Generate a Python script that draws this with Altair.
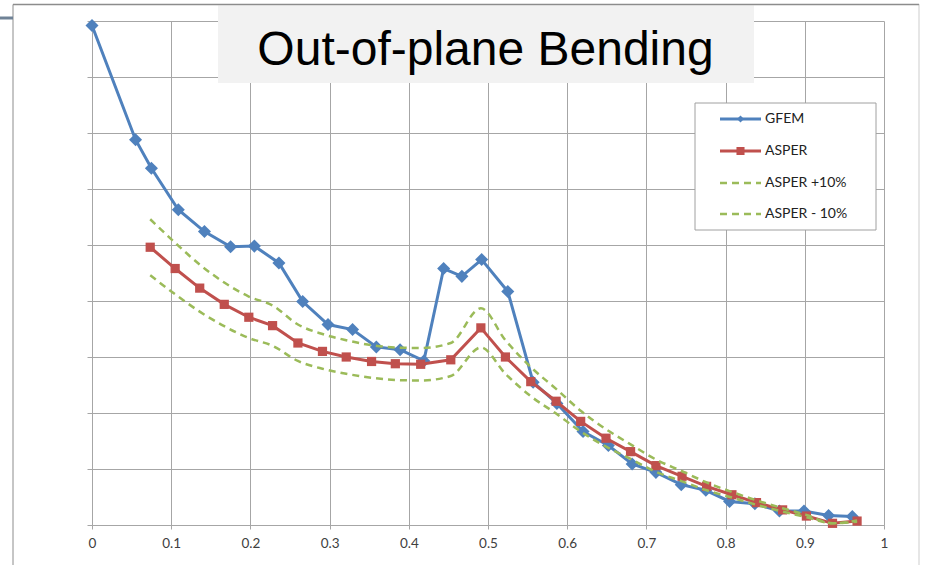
import altair as alt
import pandas as pd

# ---- data ----
gfem_x = [0, 0.055, 0.075, 0.109, 0.142, 0.175, 0.205, 0.236, 0.266, 0.298, 0.329,
          0.359, 0.389, 0.419, 0.444, 0.467, 0.492, 0.525, 0.557, 0.587, 0.620,
          0.652, 0.682, 0.712, 0.744, 0.775, 0.805, 0.837, 0.868, 0.899, 0.930, 0.960]
gfem_y = [8.92, 6.88, 6.37, 5.63, 5.24, 4.97, 4.98, 4.68, 3.99, 3.58, 3.49,
          3.18, 3.13, 2.93, 4.58, 4.44, 4.74, 4.17, 2.55, 2.17, 1.67,
          1.42, 1.09, 0.94, 0.72, 0.62, 0.42, 0.38, 0.25, 0.25, 0.17, 0.15]

asper_x = [0.0735, 0.105, 0.136, 0.167, 0.198, 0.228, 0.260, 0.291, 0.321, 0.353,
           0.383, 0.415, 0.453, 0.491, 0.522, 0.554, 0.586, 0.617, 0.649, 0.680,
           0.712, 0.745, 0.776, 0.808, 0.839, 0.872, 0.902, 0.935, 0.966]
asper_y = [4.96, 4.58, 4.23, 3.94, 3.71, 3.56, 3.25, 3.10, 3.00, 2.92,
           2.88, 2.87, 2.95, 3.52, 3.00, 2.56, 2.21, 1.85, 1.55, 1.31,
           1.06, 0.87, 0.69, 0.54, 0.40, 0.27, 0.16, 0.03, 0.07]
asper_plus_y = [5.46, 5.04, 4.65, 4.33, 4.08, 3.92, 3.58, 3.41, 3.30, 3.21,
                3.17, 3.16, 3.25, 3.87, 3.30, 2.82, 2.43, 2.04, 1.71, 1.44,
                1.17, 0.96, 0.76, 0.59, 0.44, 0.30, 0.18, 0.03, 0.08]
asper_minus_y = [4.46, 4.12, 3.81, 3.55, 3.34, 3.20, 2.93, 2.79, 2.70, 2.63,
                 2.59, 2.58, 2.66, 3.17, 2.70, 2.30, 1.99, 1.67, 1.40, 1.18,
                 0.95, 0.78, 0.62, 0.49, 0.36, 0.24, 0.14, 0.03, 0.06]

x_ticks = [0, 0.1, 0.2, 0.3, 0.4, 0.5, 0.6, 0.7, 0.8, 0.9, 1]
y_ticks = [0, 1, 2, 3, 4, 5, 6, 7, 8, 9]
title_text = "Out-of-plane Bending"
legend_labels = ["GFEM", "ASPER", "ASPER +10%", "ASPER - 10%"]

BLUE = "#4F81BD"
RED = "#C0504D"
GREEN = "#9BBB59"
GRID = "#A6A6A6"

gfem = pd.DataFrame({"x": gfem_x, "y": gfem_y})
asper = pd.DataFrame({"x": asper_x, "y": asper_y})
plus = pd.DataFrame({"x": asper_x, "y": asper_plus_y})
minus = pd.DataFrame({"x": asper_x, "y": asper_minus_y})
one = pd.DataFrame({"k": [0]})

X = alt.X("x:Q", scale=alt.Scale(domain=[0, 1], nice=False, zero=False),
          axis=alt.Axis(values=x_ticks, format="~g", title=None, grid=True,
                        gridColor=GRID, domainColor=GRID, tickColor=GRID,
                        tickSize=4, labelFont="Lato", labelFontSize=13.5,
                        labelColor="#404040", labelPadding=7, labelFlush=False))
Y = alt.Y("y:Q", scale=alt.Scale(domain=[0, 9], nice=False, zero=False),
          axis=alt.Axis(values=y_ticks, labels=False, title=None, grid=True,
                        gridColor=GRID, domainColor=GRID, tickColor=GRID,
                        tickSize=5))

gfem_line = alt.Chart(gfem).mark_line(color=BLUE, strokeWidth=3).encode(x=X, y=Y)
gfem_pts = alt.Chart(gfem).mark_point(shape="diamond", filled=True, opacity=1,
                                      size=170, color=BLUE).encode(x="x:Q", y="y:Q")
asper_line = alt.Chart(asper).mark_line(color=RED, strokeWidth=3).encode(x="x:Q", y="y:Q")
asper_pts = alt.Chart(asper).mark_square(size=85, opacity=1, color=RED).encode(x="x:Q", y="y:Q")
plus_line = alt.Chart(plus).mark_line(color=GREEN, strokeWidth=2.5, strokeDash=[7, 5],
                                      interpolate="monotone").encode(x="x:Q", y="y:Q")
minus_line = alt.Chart(minus).mark_line(color=GREEN, strokeWidth=2.5, strokeDash=[7, 5],
                                        interpolate="monotone").encode(x="x:Q", y="y:Q")

# ---- decorations: title box, frame, legend ----
title_box = alt.Chart(one).mark_rect(color="#F2F2F2").encode(
    x=alt.value(126), x2=alt.value(662), y=alt.value(-15.5), y2=alt.value(62))
title = alt.Chart(one).mark_text(text=title_text, font="Liberation Sans", fontSize=48,
                                 align="center", baseline="alphabetic", color="#000000").encode(
    x=alt.value(393.5), y=alt.value(44))

frame_left = alt.Chart(one).mark_rule(color="#8C8C8C", strokeWidth=1).encode(
    x=alt.value(-79), y=alt.value(-16.5), y2=alt.value(544))
frame_top = alt.Chart(one).mark_rule(color="#8C8C8C", strokeWidth=1.5).encode(
    x=alt.value(-79), x2=alt.value(827), y=alt.value(-16.5))
frame_right = alt.Chart(one).mark_rule(color="#9A9A9A", strokeWidth=1, strokeDash=[1, 1]).encode(
    x=alt.value(827), y=alt.value(-16.5), y2=alt.value(544))
corner_bar = alt.Chart(one).mark_rule(color="#6F8296", strokeWidth=3).encode(
    x=alt.value(-92), x2=alt.value(-79), y=alt.value(-3))

legend_box = alt.Chart(one).mark_rect(fill="white", stroke="#A0A0A0", strokeWidth=1).encode(
    x=alt.value(603), x2=alt.value(784), y=alt.value(82), y2=alt.value(209))

legend_layers = []
leg_ys = [98, 130, 162, 193]
leg_colors = [BLUE, RED, GREEN, GREEN]
for i, lab in enumerate(legend_labels):
    ly = leg_ys[i]
    if i < 2:
        legend_layers.append(alt.Chart(one).mark_rule(color=leg_colors[i], strokeWidth=3).encode(
            x=alt.value(628), x2=alt.value(669), y=alt.value(ly)))
    else:
        legend_layers.append(alt.Chart(one).mark_rule(color=GREEN, strokeWidth=2.5,
                                                      strokeDash=[7, 5]).encode(
            x=alt.value(628), x2=alt.value(669), y=alt.value(ly)))
    if i == 0:
        legend_layers.append(alt.Chart(one).mark_point(shape="diamond", filled=True, opacity=1,
                                                       size=50, color=BLUE).encode(
            x=alt.value(648.5), y=alt.value(ly)))
    if i == 1:
        legend_layers.append(alt.Chart(one).mark_square(size=65, opacity=1, color=RED).encode(
            x=alt.value(648.5), y=alt.value(ly)))
    legend_layers.append(alt.Chart(one).mark_text(text=lab, font="Lato", fontSize=14,
                                                  align="left", baseline="middle",
                                                  color="#222222").encode(
        x=alt.value(673), y=alt.value(ly)))

chart = alt.layer(
    gfem_line, gfem_pts, asper_line, asper_pts, plus_line, minus_line,
    title_box, title, frame_left, frame_top, frame_right, corner_bar,
    legend_box, *legend_layers
).properties(
    width=792, height=504,
    autosize=alt.AutoSizeParams(type="none"),
    padding={"left": 92, "top": 21, "right": 41, "bottom": 40},
    background="white",
).configure_view(stroke=None)

chart.save("out.html", embed_options={"renderer": "svg", "actions": False})
